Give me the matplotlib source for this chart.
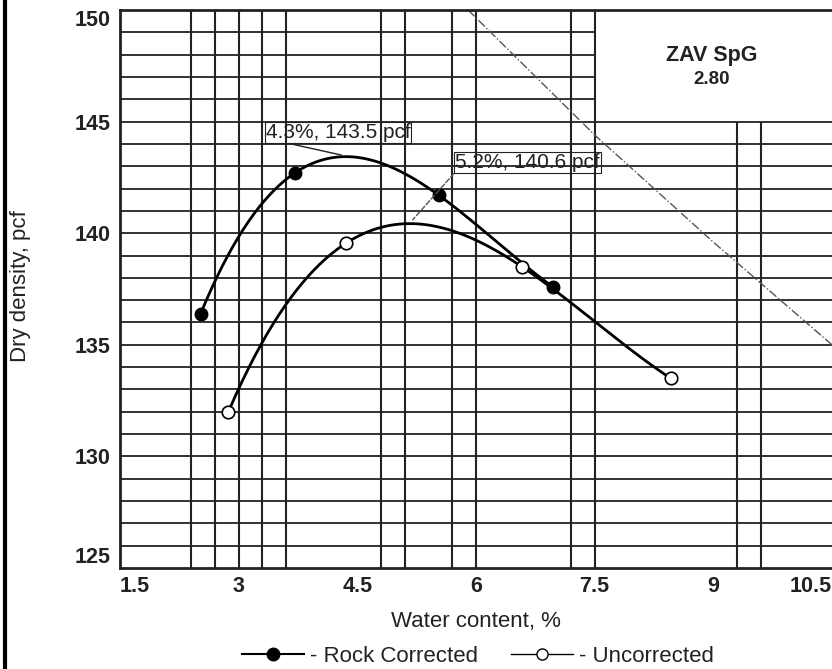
import numpy as np
import matplotlib
matplotlib.use("Agg")
import matplotlib.pyplot as plt
from matplotlib.lines import Line2D

plt.rcParams["font.family"] = ["Liberation Sans", "DejaVu Sans"]

# compaction test points
rock_w = [2.52, 3.71, 5.53, 6.97]
rock_d = [136.4, 142.7, 141.7, 137.6]
unc_w = [2.87, 4.36, 6.58, 8.46]
unc_d = [132.0, 139.56, 138.5, 133.5]

# zero-air-voids line, SpG 2.80
zav_w = [5.9, 7.5, 9.0, 10.5]
zav_d = [150.0, 144.4, 139.6, 135.0]

peak_rock = (4.3, 143.5)
peak_unc = (5.2, 140.6)

xticks = [1.5, 3, 4.5, 6, 7.5, 9, 10.5]
xtick_labels = ["1.5", "3", "4.5", "6", "7.5", "9", "10.5"]
yticks = [125, 130, 135, 140, 145, 150]

# grid of the original form (irregular verticals, 1 pcf horizontals)
vgrid = [2.4, 2.7, 3.0, 3.3, 3.6, 4.8, 5.1, 5.7, 6.0, 7.2, 7.5, 9.3, 9.6]
hgrid = list(range(126, 150))

INK = "#222222"

fig = plt.figure(figsize=(8.32, 6.69), dpi=100)
ax = fig.add_axes([120 / 832, 1 - 568 / 669, 712 / 832, 558 / 669])
ax.set_xlim(1.5, 10.5)
ax.set_ylim(125, 150)

# grid lines, leaving the ZAV label box (7.5-10.5, 145-150) clear
for x in vgrid:
    top = 145 if x > 7.5 else 150
    ax.vlines(x, 125, top, color=INK, lw=1.5, zorder=1)
for y in hgrid:
    right = 7.5 if y > 145 else 10.5
    ax.hlines(y, 1.5, right, color=INK, lw=1.3, zorder=1)

# ZAV curve
ax.plot(zav_w, zav_d, color="#555555", lw=1.0, ls="-.", zorder=2)

# smooth curves through the test points
for w, d in [(rock_w, rock_d), (unc_w, unc_d)]:
    coef = np.polyfit(w, d, 3)
    ww = np.linspace(w[0], w[-1], 200)
    ax.plot(ww, np.polyval(coef, ww), color="black", lw=2.0, zorder=3)

ax.plot(rock_w, rock_d, "o", ms=9, mfc="black", mec="black", zorder=4)
ax.plot(unc_w, unc_d, "o", ms=9, mfc="white", mec="black", mew=1.2, zorder=4)

ax.annotate("4.3%, 143.5 pcf", xy=peak_rock, xytext=(3.34, 144.08),
            ha="left", va="bottom", fontsize=15, color=INK, zorder=5,
            bbox=dict(boxstyle="square,pad=0.05", fc="none", ec=INK, lw=0.8),
            arrowprops=dict(arrowstyle="-", color=INK, lw=1.0,
                            relpos=(0.12, 0), shrinkA=0, shrinkB=0))
ax.annotate("5.2%, 140.6 pcf", xy=peak_unc, xytext=(5.74, 142.75),
            ha="left", va="bottom", fontsize=15, color=INK, zorder=5,
            bbox=dict(boxstyle="square,pad=0.05", fc="none", ec=INK, lw=0.8),
            arrowprops=dict(arrowstyle="-", color="#555555", lw=1.0, ls="--",
                            relpos=(0, 0), shrinkA=0, shrinkB=0))

ax.text(8.98, 147.98, "ZAV SpG", ha="center", va="center", fontsize=15.5,
        fontweight="bold", color=INK)
ax.text(8.98, 146.9, "2.80", ha="center", va="center", fontsize=13.5,
        fontweight="bold", color=INK)

# axes styling
ax.set_xticks(xticks)
ax.set_xticklabels(xtick_labels)
ax.set_yticks(yticks)
ax.tick_params(length=0, labelsize=15.5, colors=INK)
ax.tick_params(axis="x", pad=6)
ax.tick_params(axis="y", pad=7)
for lab in ax.get_xticklabels() + ax.get_yticklabels():
    lab.set_fontweight("bold")
xl = ax.get_xticklabels()
xl[0].set_ha("left")
xl[-1].set_ha("right")
yl = ax.get_yticklabels()
yl[0].set_va("bottom")
yl[-1].set_va("top")
for side in ["top", "left", "bottom"]:
    ax.spines[side].set_linewidth(2.0)
    ax.spines[side].set_color(INK)
ax.spines["right"].set_visible(False)

fig.text(476 / 832, 1 - 622 / 669, "Water content, %", ha="center",
         va="center", fontsize=16, color=INK)
fig.text(21 / 832, 1 - 286 / 669, "Dry density, pcf", ha="center",
         va="center", rotation=90, fontsize=16, color=INK)

handles = [
    Line2D([], [], color="black", lw=1.5, marker="o", ms=9, mfc="black"),
    Line2D([], [], color="black", lw=1.0, marker="o", ms=8, mfc="white"),
]
fig.legend(handles, ["- Rock Corrected", "- Uncorrected"], ncol=2,
           loc="center", bbox_to_anchor=(478 / 832, 1 - 656 / 669),
           frameon=False, fontsize=16, handlelength=2.8, handletextpad=0.25,
           columnspacing=1.5, borderpad=0, labelcolor=INK)

# left border of the scanned page
fig.add_artist(Line2D([5 / 832, 5 / 832], [0, 1], color="black", lw=3,
                      transform=fig.transFigure))

fig.savefig("out.png", dpi=100)
